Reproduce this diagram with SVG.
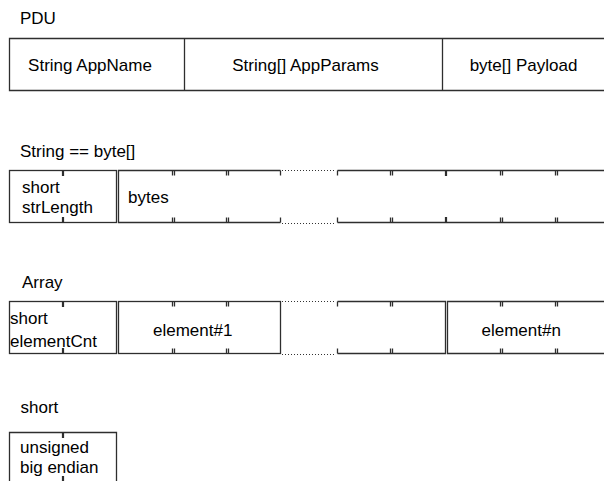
<svg xmlns="http://www.w3.org/2000/svg" width="604" height="481" viewBox="0 0 604 481">
  <style>
    .ln { fill: none; stroke: #2e2e2e; stroke-width: 1.3; }
    .tk { fill: none; stroke: #2e2e2e; stroke-width: 1.3; }
    .tkb { fill: none; stroke: #2e2e2e; stroke-width: 2.2; }
    .dot { fill: none; stroke: #333; stroke-width: 1; stroke-dasharray: 1 2; }
    .t { font-family: "Liberation Sans", Arial, sans-serif; font-size: 17px; fill: #000; }
    .c { text-anchor: middle; }
  </style>
  <rect width="604" height="481" fill="#fff"/>

  <!-- PDU layout -->
  <text class="t" x="20" y="24">PDU</text>
  <g id="pdu">
    <path class="ln" d="M604,38.5 H9.5 V90.5 H604 M184.5,38.5 V90.5 M442.5,38.5 V90.5"/>
    <g id="pdu-appname"><text class="t c" x="90" y="71">String AppName</text></g>
    <g id="pdu-appparams"><text class="t c" x="305.5" y="71">String[] AppParams</text></g>
    <g id="pdu-payload"><text class="t c" x="523.5" y="71">byte[] Payload</text></g>
  </g>

  <!-- String encoding -->
  <text class="t" x="20" y="157">String == byte[]</text>
  <g id="string">
    <g id="str-length">
      <rect class="ln" x="9.5" y="170.5" width="107" height="52"/>
      <path class="tkb" d="M63,170.5 v5.5 M63,222.5 v-5.5"/>
      <text class="t" x="22" y="193">short</text>
      <text class="t" x="22" y="213">strLength</text>
    </g>
    <g id="str-bytes">
      <path class="ln" d="M280.5,170.5 H118.5 V222.5 H280.5"/>
      <path class="tk" d="M172.5,170.5 v5 M174.5,170.5 v5 M226.5,170.5 v5 M228.5,170.5 v5 M280.5,170.5 v5
                           M172.5,222.5 v-5 M174.5,222.5 v-5 M226.5,222.5 v-5 M228.5,222.5 v-5 M280.5,222.5 v-5"/>
      <text class="t" x="128" y="203">bytes</text>
    </g>
    <g id="str-gap">
      <path class="dot" d="M282,170.5 H336 M282,223.5 H336"/>
    </g>
    <g id="str-tail">
      <path class="ln" d="M337.5,170.5 H604 M337.5,222.5 H604"/>
      <path class="tk" d="M337.5,170.5 v5 M390.5,170.5 v5 M392.5,170.5 v5 M500.5,170.5 v5 M502.5,170.5 v5 M555.5,170.5 v5 M557.5,170.5 v5
                           M337.5,222.5 v-5 M390.5,222.5 v-5 M392.5,222.5 v-5 M500.5,222.5 v-5 M502.5,222.5 v-5 M555.5,222.5 v-5 M557.5,222.5 v-5"/>
      <path class="tkb" d="M446,170.5 v5.5 M446,222.5 v-5.5"/>
    </g>
  </g>

  <!-- Array encoding -->
  <text class="t" x="22" y="288">Array</text>
  <g id="array">
    <g id="arr-count">
      <rect class="ln" x="9.5" y="301.5" width="107" height="52"/>
      <path class="tkb" d="M63,301.5 v5.5 M63,353.5 v-5.5"/>
      <text class="t" x="10" y="324">short</text>
      <text class="t" x="10" y="347">elementCnt</text>
    </g>
    <g id="arr-element1">
      <rect class="ln" x="118.5" y="301.5" width="162" height="52"/>
      <path class="tk" d="M172.5,301.5 v5 M174.5,301.5 v5 M226.5,301.5 v5 M228.5,301.5 v5
                           M172.5,353.5 v-5 M174.5,353.5 v-5 M226.5,353.5 v-5 M228.5,353.5 v-5"/>
      <text class="t" x="153" y="335.5">element#1</text>
    </g>
    <g id="arr-gap">
      <path class="dot" d="M282,301.5 H336 M282,354.5 H336"/>
    </g>
    <g id="arr-middle">
      <path class="ln" d="M337.5,301.5 H445.5 V353.5 H337.5"/>
      <path class="tk" d="M337.5,301.5 v5 M390.5,301.5 v5 M392.5,301.5 v5
                           M337.5,353.5 v-5 M390.5,353.5 v-5 M392.5,353.5 v-5"/>
    </g>
    <g id="arr-elementn">
      <path class="ln" d="M604,301.5 H447.5 V353.5 H604"/>
      <path class="tk" d="M500.5,301.5 v5 M502.5,301.5 v5 M555.5,301.5 v5 M557.5,301.5 v5
                           M500.5,353.5 v-5 M502.5,353.5 v-5 M555.5,353.5 v-5 M557.5,353.5 v-5"/>
      <text class="t" x="481.5" y="335.5">element#n</text>
    </g>
  </g>

  <!-- short encoding -->
  <text class="t" x="20.5" y="413">short</text>
  <g id="short">
    <path class="ln" d="M9.5,484 V432.5 H116.5 V484"/>
    <path class="tkb" d="M63,432.5 v5.5 M63,484 v-8"/>
    <text class="t" x="20" y="453">unsigned</text>
    <text class="t" x="20" y="473">big endian</text>
  </g>
</svg>
